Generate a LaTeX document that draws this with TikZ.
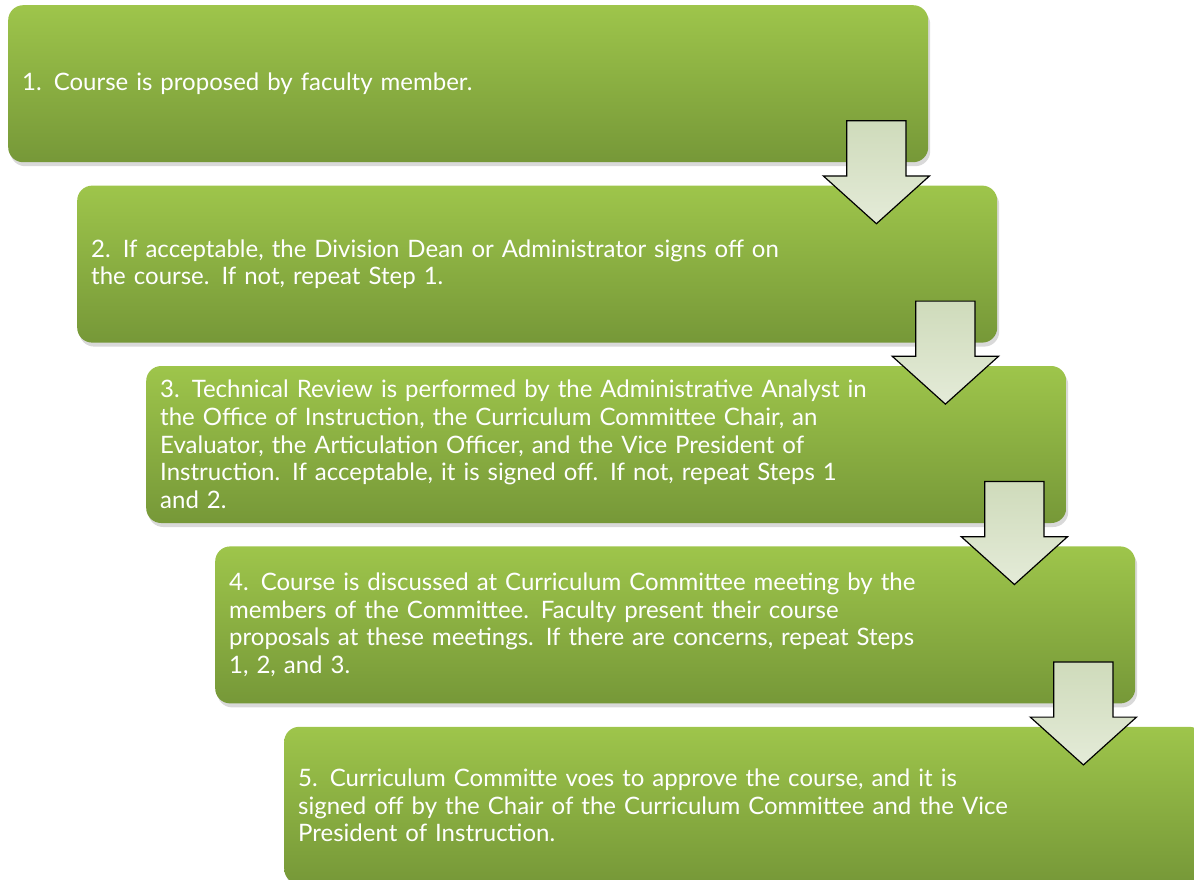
\documentclass[tikz,border=0pt]{standalone}
\usepackage{fontspec}
\setmainfont{Lato}
\usetikzlibrary{positioning, calc, shapes.arrows, shadows}
\definecolor{boxtop}{HTML}{9EC54B}
\definecolor{boxbottom}{HTML}{769838}
\definecolor{arrowtop}{HTML}{CFDBBB}
\definecolor{arrowbottom}{HTML}{E4EBD8}
\tikzset{
	stepbox/.style={rectangle, rounded corners=15pt, top color=boxtop, bottom color=boxbottom,
		minimum width=920pt, minimum height=157pt, text width=892pt, inner xsep=14pt,
		align=left, text=white, font=\fontsize{24}{27.7}\selectfont,
		drop shadow={shadow xshift=2pt, shadow yshift=-4pt, opacity=0.3}},
	flowarrow/.style={single arrow, shape border rotate=270, draw=black, line width=1.2pt,
		top color=arrowtop, bottom color=arrowbottom, minimum height=103pt,
		single arrow head extend=23.5pt, single arrow tip angle=96, inner sep=29pt},
}

\begin{document}
\begin{tikzpicture}
	\useasboundingbox (0,0) rectangle (1194pt,-879pt);
	
	\node[stepbox, anchor=north west] (S1) at (8pt,-5pt) {1. Course is proposed by faculty member.};
	\node[stepbox, below=23pt of S1, xshift=69pt] (S2) {2. If acceptable, the Division Dean or Administrator signs off on\\ the course. If not, repeat Step 1.};
	\node[stepbox, below=23pt of S2, xshift=69pt] (S3) {3. Technical Review is performed by the Administrative Analyst in\\ the Office of Instruction, the Curriculum Committee Chair, an\\ Evaluator, the Articulation Officer, and the Vice President of\\ Instruction. If acceptable, it is signed off. If not, repeat Steps 1\\ and 2.};
	\node[stepbox, below=23pt of S3, xshift=69pt] (S4) {4. Course is discussed at Curriculum Committee meeting by the\\ members of the Committee. Faculty present their course\\ proposals at these meetings. If there are concerns, repeat Steps\\ 1, 2, and 3.};
	\node[stepbox, below=23pt of S4, xshift=69pt] (S5) {5. Curriculum Committe voes to approve the course, and it is\\ signed off by the Chair of the Curriculum Committee and the Vice\\ President of Instruction.};
	
	\node[flowarrow] (A1) at ($(S1.south east)+(-52pt,3.5pt)$) {};
	\node[flowarrow] (A2) at ($(S2.south east)+(-52pt,3.5pt)$) {};
	\node[flowarrow] (A3) at ($(S3.south east)+(-52pt,3.5pt)$) {};
	\node[flowarrow] (A4) at ($(S4.south east)+(-52pt,3.5pt)$) {};
\end{tikzpicture}
\end{document}
